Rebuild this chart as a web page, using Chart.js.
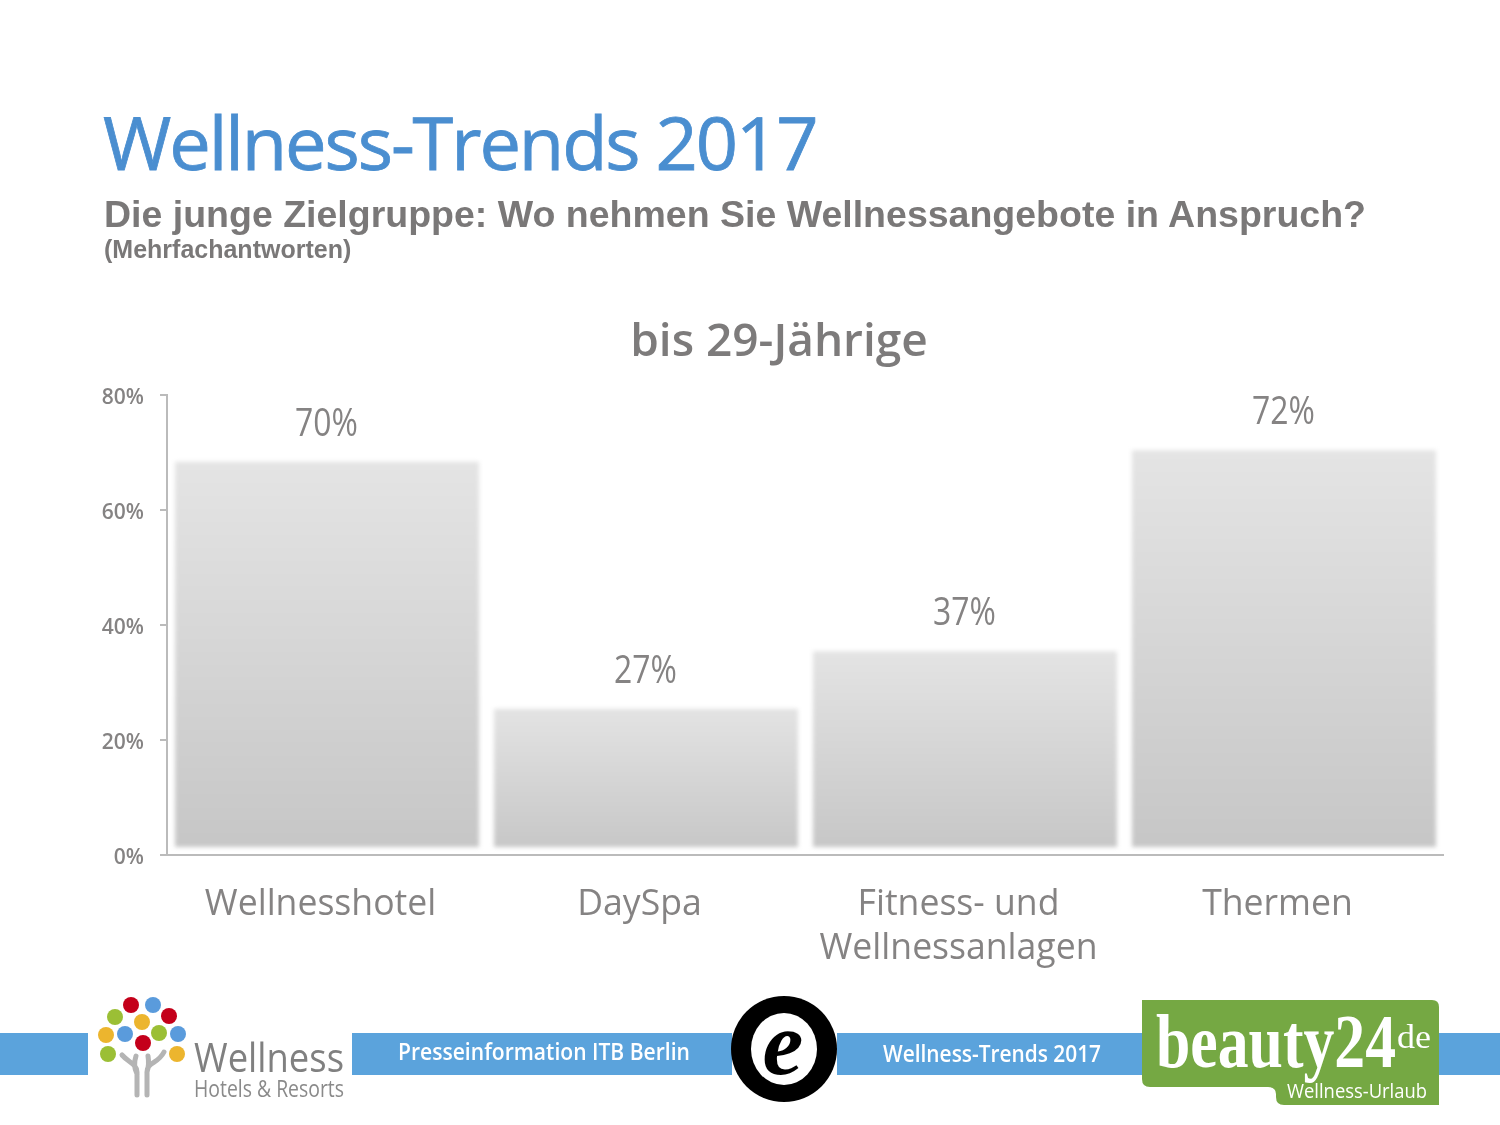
<!DOCTYPE html>
<html lang="de">
<head>
<meta charset="UTF-8">
<title>Wellness-Trends 2017</title>
<script src="https://cdn.jsdelivr.net/npm/chart.js"></script>
<style>
  html, body { margin:0; padding:0; background:#fff; }
  #page { position:relative; width:1500px; height:1125px; overflow:hidden; }
  #chart { position:absolute; left:0; top:0; }
  .head { position:absolute; white-space:nowrap; }
  #h1 { left:103px; top:94px; font:400 74px "Open Sans", sans-serif; color:#4a8ed0; letter-spacing:-2.1px; line-height:96px; -webkit-text-stroke:0.8px #4a8ed0; }
  #h2 { left:104px; top:192px; font:700 37.5px "Liberation Sans", sans-serif; color:#7a7878; line-height:44px; }
  #h3 { left:104px; top:234px; font:700 25px "Liberation Sans", sans-serif; color:#7a7878; line-height:30px; }
  #footer { position:absolute; left:0; top:0; }
</style>
</head>
<body>
<div id="page">
  <canvas id="chart" width="1500" height="1125"></canvas>
  <div class="head" id="h1">Wellness-Trends 2017</div>
  <div class="head" id="h2">Die junge Zielgruppe: Wo nehmen Sie Wellnessangebote in Anspruch?</div>
  <div class="head" id="h3">(Mehrfachantworten)</div>

  <svg id="footer" width="1500" height="1125" font-family="Open Sans">
    <g fill="#5ba3dc">
      <rect x="0" y="1033" width="88" height="42"/>
      <rect x="352" y="1033" width="380" height="42"/>
      <rect x="837" y="1033" width="309" height="42"/>
      <rect x="1436" y="1033" width="64" height="42"/>
    </g>
    <!-- Baum -->
    <g>
      <ellipse cx="131" cy="1005" rx="8" ry="8" fill="#c4001a"/>
      <ellipse cx="153" cy="1005" rx="8" ry="8" fill="#5a9bdc"/>
      <ellipse cx="115" cy="1017" rx="8" ry="8" fill="#9bbf35"/>
      <ellipse cx="169" cy="1016" rx="8" ry="8" fill="#c4001a"/>
      <ellipse cx="142" cy="1022" rx="8" ry="8" fill="#ecb52e"/>
      <ellipse cx="106" cy="1035" rx="8" ry="8" fill="#ecb52e"/>
      <ellipse cx="125" cy="1034" rx="8" ry="8" fill="#5a9bdc"/>
      <ellipse cx="159" cy="1033" rx="8" ry="8" fill="#9bbf35"/>
      <ellipse cx="178" cy="1034" rx="8" ry="8" fill="#5a9bdc"/>
      <ellipse cx="143" cy="1043" rx="8" ry="8" fill="#c4001a"/>
      <ellipse cx="108" cy="1054" rx="8" ry="8" fill="#9bbf35"/>
      <ellipse cx="177" cy="1054" rx="8" ry="8" fill="#ecb52e"/>
      <path d="M137 1095V1072C137 1064 128 1062 122 1055M147 1095V1072C147 1062 158 1064 164 1052M137 1074C134 1068 134 1062 136 1056M147 1072C149 1066 149 1062 148 1056" fill="none" stroke="#b4b4b4" stroke-width="5" stroke-linecap="round"/>
    </g>
    <text x="194" y="1072" font-size="40" fill="#808080" textLength="150" lengthAdjust="spacingAndGlyphs">Wellness</text>
    <text x="194" y="1097" font-size="23" fill="#8a8a8a" textLength="150" lengthAdjust="spacingAndGlyphs">Hotels &amp; Resorts</text>
    <text x="398" y="1060" font-size="23" font-weight="600" fill="#fff" textLength="292" lengthAdjust="spacingAndGlyphs">Presseinformation ITB Berlin</text>
    <!-- Siegel -->
    <circle cx="784" cy="1049" r="53" fill="#000"/>
    <ellipse cx="784" cy="1049" rx="33" ry="36" fill="#fff"/>
    <text x="783" y="1074" text-anchor="middle" font-family="Liberation Serif" font-style="italic" font-weight="700" font-size="92" fill="#000">e</text>
    <text x="883" y="1062" font-size="23" font-weight="600" fill="#fff" textLength="218" lengthAdjust="spacingAndGlyphs">Wellness-Trends 2017</text>
    <!-- beauty24 -->
    <path d="M1142 1000H1432Q1439 1000 1439 1007V1105H1284Q1276 1105 1276 1097V1094Q1276 1087 1268 1087H1150Q1142 1087 1142 1079Z" fill="#75a843"/>
    <text x="1156" y="1067" font-family="Liberation Serif" font-weight="700" font-size="76" fill="#fff" textLength="240" lengthAdjust="spacingAndGlyphs">beauty24</text>
    <text x="1397" y="1048" font-family="Liberation Serif" font-size="34" fill="#fff" textLength="34" lengthAdjust="spacingAndGlyphs">de</text>
    <text x="1287" y="1098" font-size="20" fill="#fff" textLength="140" lengthAdjust="spacingAndGlyphs">Wellness-Urlaub</text>
  </svg>
</div>

<script>
const categories = ["Wellnesshotel", "DaySpa", ["Fitness- und", "Wellnessanlagen"], "Thermen"];
const values = [70, 27, 37, 72];
const yTicks = [0, 20, 40, 60, 80];

const textGrey = "#858383";
const fontName = "'Open Sans', sans-serif";

// unscharfe Balken wie im Original
const blurBars = {
    id: "blurBars",
    beforeDatasetsDraw(chart) {
        chart.ctx.save();
        chart.ctx.filter = "blur(2px)";
    },
    afterDatasetsDraw(chart) {
        chart.ctx.restore();
    }
};

const valueLabels = {
    id: "valueLabels",
    afterDraw(chart) {
        const ctx = chart.ctx;
        ctx.font = "500 38px " + fontName;
        ctx.fillStyle = textGrey;
        ctx.textAlign = "center";
        ctx.textBaseline = "middle";
        chart.getDatasetMeta(0).data.forEach((bar, i) => {
            ctx.save();
            ctx.translate(bar.x, bar.y - 28);
            ctx.scale(0.84, 1); // Originalschrift ist schmaler
            ctx.fillText(values[i] + "%", 0, 0);
            ctx.restore();
        });
    }
};

// die y-Beschriftung ragt links aus der Achsenbox, sonst wird sie abgeschnitten
const widenLabelClip = {
    id: "widenLabelClip",
    afterLayout(chart) {
        chart.scales.y.left = 90;
    }
};

new Chart(document.getElementById("chart").getContext("2d"), {
    type: "bar",
    data: {
        labels: categories,
        datasets: [{
            data: values,
            barPercentage: 1,
            categoryPercentage: 1,
            inflateAmount: 0,
            borderSkipped: false,
            borderColor: "rgba(0,0,0,0)",
            borderWidth: { top: 9, bottom: 7, left: 8, right: 7 },
            backgroundColor(c) {
                const y = c.chart.scales.y;
                if (!y || c.dataIndex === undefined) return "#d4d4d4";
                const top = y.getPixelForValue(values[c.dataIndex]);
                const bottom = y.getPixelForValue(0);
                if (!isFinite(top) || !isFinite(bottom)) return "#d4d4d4";
                const g = c.chart.ctx.createLinearGradient(0, top, 0, bottom);
                g.addColorStop(0, "#e5e5e5");
                g.addColorStop(1, "#c6c6c6");
                return g;
            }
        }]
    },
    options: {
        responsive: false,
        animation: false,
        layout: { padding: { left: 115, right: 57, top: 0, bottom: 0 } },
        plugins: {
            legend: { display: false },
            tooltip: { enabled: false },
            title: {
                display: true,
                text: "bis 29-Jährige",
                color: "#7d7b7b",
                font: { family: fontName, size: 46, weight: "600" },
                padding: { top: 315, bottom: 25 }
            }
        },
        scales: {
            x: {
                afterFit(s) { s.height = 270; },
                grid: { display: false },
                border: { color: "#bbbbbb", width: 2 },
                ticks: {
                    color: textGrey,
                    font: { family: fontName, size: 35.6, weight: "500", lineHeight: 1.24 },
                    maxRotation: 0,
                    autoSkip: false,
                    labelOffset: -6,
                    padding: 20
                }
            },
            y: {
                min: 0,
                max: 80,
                afterFit(s) { s.width = 52; },
                afterBuildTicks(s) { s.ticks = yTicks.map(v => ({ value: v })); },
                grid: { drawOnChartArea: false, color: "#bbbbbb", lineWidth: 2, tickLength: 7 },
                border: { color: "#bbbbbb", width: 2 },
                ticks: {
                    color: textGrey,
                    font: { family: fontName, size: 21, weight: "600" },
                    padding: 16,
                    labelOffset: 3,
                    callback: v => v + "%"
                }
            }
        }
    },
    plugins: [blurBars, valueLabels, widenLabelClip]
});
</script>
</body>
</html>
